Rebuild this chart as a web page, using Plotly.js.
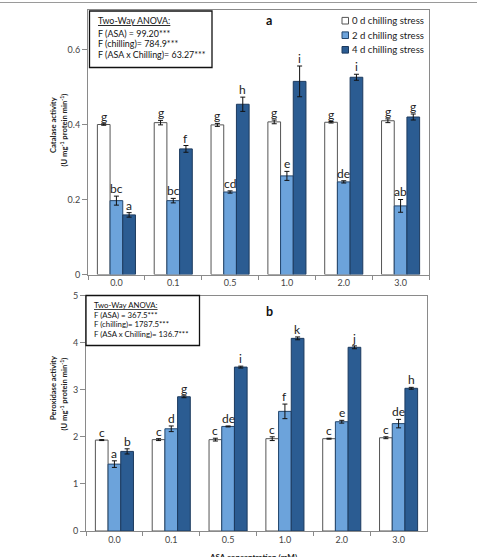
<!DOCTYPE html>
<html>
<head>
<meta charset="utf-8">
<script src="https://cdn.plot.ly/plotly-3.0.1.min.js"></script>
<style>
  html, body { margin: 0; padding: 0; background: #fff; }
  #chart { width: 477px; height: 557px; }
</style>
</head>
<body>
<div id="chart"></div>
<script>
// ASA concentrations (mM) on the category axis
const categories = ['0.0', '0.1', '0.5', '1.0', '2.0', '3.0'];
const seriesNames = ['0 d chilling stress', '2 d chilling stress', '4 d chilling stress'];

// Panel a: catalase activity (U mg-1 protein min-1)
const catalase0d = [0.400, 0.405, 0.399, 0.407, 0.406, 0.410];
const catalase0dErr = [0.002, 0.006, 0.004, 0.005, 0.002, 0.005];
const catalase2d = [0.197, 0.197, 0.220, 0.263, 0.247, 0.183];
const catalase2dErr = [0.012, 0.006, 0.003, 0.012, 0.003, 0.017];
const catalase4d = [0.159, 0.335, 0.454, 0.515, 0.526, 0.420];
const catalase4dErr = [0.006, 0.009, 0.019, 0.041, 0.008, 0.008];
const catalase0dLetters = ['g', 'g', 'g', 'g', 'g', 'g'];
const catalase2dLetters = ['bc', 'bc', 'cd', 'e', 'de', 'ab'];
const catalase4dLetters = ['a', 'f', 'h', 'i', 'i', 'g'];

// Panel b: peroxidase activity (U mg-1 protein min-1)
const peroxidase0d = [1.93, 1.94, 1.94, 1.96, 1.96, 1.98];
const peroxidase0dErr = [0.01, 0.02, 0.03, 0.04, 0.01, 0.02];
const peroxidase2d = [1.42, 2.17, 2.22, 2.54, 2.32, 2.28];
const peroxidase2dErr = [0.07, 0.06, 0.01, 0.155, 0.03, 0.09];
const peroxidase4d = [1.69, 2.85, 3.48, 4.09, 3.90, 3.03];
const peroxidase4dErr = [0.055, 0.02, 0.02, 0.03, 0.03, 0.02];
const peroxidase0dLetters = ['c', 'c', 'c', 'c', 'c', 'c'];
const peroxidase2dLetters = ['a', 'd', 'de', 'f', 'e', 'de'];
const peroxidase4dLetters = ['b', 'g', 'i', 'k', 'j', 'h'];

// ANOVA summaries
const anovaA = ['F (ASA) = 99.20***', 'F (chilling)= 784.9***', 'F (ASA x Chilling)= 63.27***'];
const anovaB = ['F (ASA) = 367.5***', 'F (chilling)= 1787.5***', 'F (ASA x Chilling)= 136.7***'];

const W = 477, H = 557;
const FONT = 'Lato, "Open Sans", sans-serif';
const fills = ['#ffffff', '#6ca3db', '#2b5c92'];
const edges = ['#555555', '#24476e', '#1c3a5e'];
const BARGAP = 0.33;
const offsets = [-(1 - BARGAP) / 3, 0, (1 - BARGAP) / 3];

const px = x => x / W;
const py = y => 1 - y / H;

function barTrace(name, vals, errs, k, xa, ya) {
  return {
    type: 'bar', name: name, x: categories, y: vals,
    xaxis: xa, yaxis: ya, showlegend: false,
    marker: { color: fills[k], line: { color: edges[k], width: 1 } },
    error_y: { type: 'data', array: errs, visible: true, color: '#111', thickness: 1, width: 2.5 },
    hoverinfo: 'skip'
  };
}

const traces = [
  barTrace(seriesNames[0], catalase0d, catalase0dErr, 0, 'x', 'y'),
  barTrace(seriesNames[1], catalase2d, catalase2dErr, 1, 'x', 'y'),
  barTrace(seriesNames[2], catalase4d, catalase4dErr, 2, 'x', 'y'),
  barTrace(seriesNames[0], peroxidase0d, peroxidase0dErr, 0, 'x2', 'y2'),
  barTrace(seriesNames[1], peroxidase2d, peroxidase2dErr, 1, 'x2', 'y2'),
  barTrace(seriesNames[2], peroxidase4d, peroxidase4dErr, 2, 'x2', 'y2')
];

const annotations = [];
const shapes = [];

// Text placed in page pixels on the paper
function note(x, y, text, size, opts) {
  annotations.push(Object.assign({
    xref: 'paper', yref: 'paper', x: px(x), y: py(y), xanchor: 'center', yanchor: 'middle',
    showarrow: false, text: text, font: { family: FONT, size: size, color: '#111' }
  }, opts || {}));
}

// Significance letters above each bar's error bar
function letterNotes(vals, errs, letters, k, xr, yr) {
  vals.forEach((v, i) => {
    annotations.push({
      xref: xr, yref: yr, x: i + offsets[k], y: v + errs[i],
      xanchor: 'center', yanchor: 'bottom', yshift: -2,
      text: letters[i], showarrow: false,
      font: { family: FONT, size: 12, color: '#222' }
    });
  });
}
letterNotes(catalase0d, catalase0dErr, catalase0dLetters, 0, 'x', 'y');
letterNotes(catalase2d, catalase2dErr, catalase2dLetters, 1, 'x', 'y');
letterNotes(catalase4d, catalase4dErr, catalase4dLetters, 2, 'x', 'y');
letterNotes(peroxidase0d, peroxidase0dErr, peroxidase0dLetters, 0, 'x2', 'y2');
letterNotes(peroxidase2d, peroxidase2dErr, peroxidase2dLetters, 1, 'x2', 'y2');
letterNotes(peroxidase4d, peroxidase4dErr, peroxidase4dLetters, 2, 'x2', 'y2');

// ANOVA boxes
function anovaBox(x0, y0, x1, y1, textX, lineYs, lines, size) {
  shapes.push({ type: 'rect', xref: 'paper', yref: 'paper',
    x0: px(x0), x1: px(x1), y0: py(y0), y1: py(y1),
    line: { color: '#111', width: 1.3 }, fillcolor: '#fff' });
  const all = ['<u>Two-Way ANOVA:</u>'].concat(lines);
  all.forEach((t, j) => note(textX, lineYs[j], t, size, { xanchor: 'left' }));
}
anovaBox(89.5, 11, 212, 67.5, 95.5, [20.5, 33, 43.7, 54.3], anovaA, 8.9);
anovaBox(86, 295.5, 199.5, 345.5, 91.5, [305, 314.5, 324.3, 334], anovaB, 7.8);

// Panel labels
note(269, 20.5, '<b>a</b>', 12.5);
note(269, 311, '<b>b</b>', 12.5);

// Legend drawn as swatches and labels
[20.7, 35.2, 49.8].forEach((y, k) => {
  shapes.push({ type: 'rect', xref: 'paper', yref: 'paper',
    x0: px(342), x1: px(348.5), y0: py(y + 3.3), y1: py(y - 3.3),
    fillcolor: fills[k], line: { color: edges[k], width: 1 } });
  note(349.5, y, seriesNames[k], 9.6, { xanchor: 'left', font: { family: FONT, size: 9.6, color: '#222' } });
});

// Axis titles
function vTitle(x, y, t) {
  note(x, y, '<b>' + t + '</b>', 7.6, { textangle: -90, font: { family: FONT, size: 7.6, color: '#222' } });
}
vTitle(53, 125, 'Catalase activity');
vTitle(63.5, 130, '(U mg<sup>-1</sup> protein min<sup>-1</sup>)');
vTitle(53, 388, 'Peroxidase activity');
vTitle(63.5, 394, '(U mg<sup>-1</sup> protein min<sup>-1</sup>)');
note(253, 556.5, '<b>ASA concentration (mM)</b>', 8, { font: { family: FONT, size: 8, color: '#222' } });

// Thin frame line along the top edge
shapes.push({ type: 'line', xref: 'paper', yref: 'paper', x0: 0, x1: 1,
  y0: py(2.5), y1: py(2.5), line: { color: '#9a9a9a', width: 1 } });

const xCommon = {
  type: 'category', range: [-0.5, 5.5], showline: true, linecolor: '#8a8a8a', linewidth: 1,
  mirror: true, ticks: 'outside', tickson: 'boundaries', ticklen: 4, tickcolor: '#8a8a8a',
  showgrid: false, zeroline: false, tickfont: { family: FONT, size: 9, color: '#444' }
};
const yCommon = {
  showline: true, linecolor: '#8a8a8a', linewidth: 1, mirror: true, ticks: 'outside',
  ticklen: 5, tickcolor: '#8a8a8a', showgrid: false, zeroline: false,
  tickfont: { family: FONT, size: 9, color: '#444' }
};

const layout = {
  width: W, height: H, margin: { l: 0, r: 0, t: 0, b: 0 },
  paper_bgcolor: '#fff', plot_bgcolor: '#fff',
  barmode: 'group', bargap: BARGAP, bargroupgap: 0, showlegend: false,
  xaxis: Object.assign({}, xCommon, { domain: [px(88), px(429)], anchor: 'y' }),
  yaxis: Object.assign({}, yCommon, { domain: [py(274.5), py(9.5)], anchor: 'x',
    range: [0, 0.7067], tickvals: [0, 0.2, 0.4, 0.6], ticktext: ['0', '0.2', '0.4', '0.6'] }),
  xaxis2: Object.assign({}, xCommon, { domain: [px(86), px(427)], anchor: 'y2' }),
  yaxis2: Object.assign({}, yCommon, { domain: [py(531), py(295.5)], anchor: 'x2',
    range: [0, 5], tickvals: [0, 1, 2, 3, 4, 5] }),
  annotations: annotations, shapes: shapes
};

Plotly.newPlot('chart', traces, layout, { staticPlot: true, displayModeBar: false });
</script>
</body>
</html>
